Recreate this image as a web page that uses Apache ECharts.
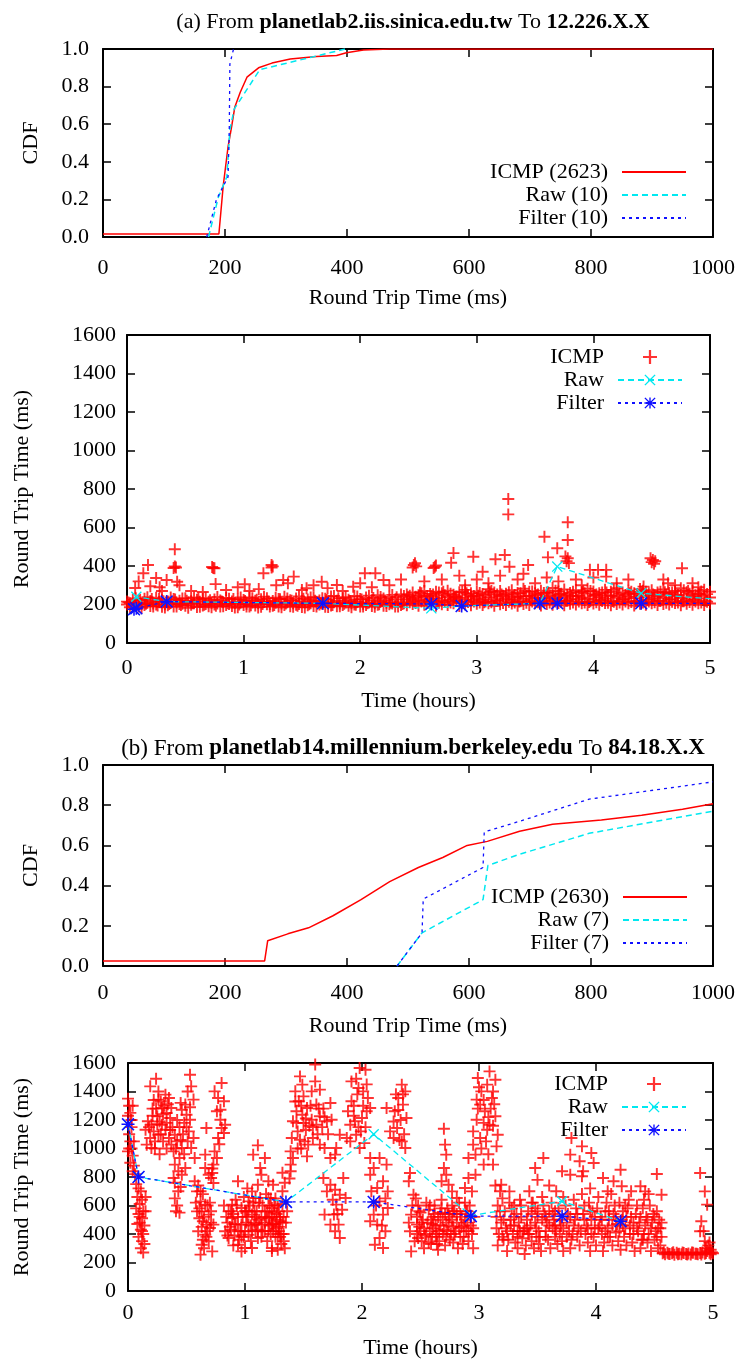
<!DOCTYPE html>
<html><head><meta charset="utf-8">
<script src="https://cdn.jsdelivr.net/npm/echarts@6/dist/echarts.min.js"></script>
<style>html,body{margin:0;padding:0;background:#fff}#c{width:739px;height:1361px}</style>
</head><body><div id="c"></div>
<script>
// ---------- DATA ----------
// (a) CDF
const cdfA_icmp = [[0,0.016],[190,0.016],[197,0.27],[205,0.48],[211,0.59],[216,0.69],[225,0.77],[236,0.85],[255,0.90],[277,0.925],[307,0.947],[350,0.96],[383,0.965],[399,0.98],[427,0.995],[470,1.0],[1000,1.0]];
const cdfA_raw = [[173,0],[189,0.21],[203,0.32],[208,0.57],[215,0.68],[257,0.89],[397,1.0]];
const cdfA_filter = [[170,0],[186,0.2],[205,0.32],[207,0.57],[208,0.92],[214,1.0]];
// (b) CDF
const cdfB_icmp = [[0,0.025],[265,0.025],[270,0.126],[303,0.16],[337,0.19],[377,0.25],[423,0.33],[470,0.42],[517,0.49],[557,0.54],[597,0.60],[630,0.62],[683,0.67],[737,0.705],[817,0.726],[883,0.75],[950,0.78],[1000,0.807]];
const cdfB_raw = [[482,0],[523,0.165],[623,0.33],[631,0.50],[683,0.556],[797,0.66],[1000,0.77]];
const cdfB_filter = [[482,0],[523,0.165],[525,0.333],[623,0.49],[625,0.667],[683,0.72],[797,0.83],[1000,0.916]];

// (a) time series: ICMP band (left part)
const icmpA_bandL = [[0.00,200],[0.00,215],[0.05,195],[0.05,225],[0.10,190],[0.10,220],[0.15,198],[0.15,230],[0.20,192],[0.20,218],[0.25,200],[0.25,235],[0.30,188],[0.30,222],[0.35,196],[0.35,215],[0.40,190],[0.40,228],[0.45,202],[0.45,220],[0.50,193],[0.50,232],[0.55,199],[0.55,217],[0.60,187],[0.60,225],[0.65,195],[0.65,230],[0.70,191],[0.70,214],[0.75,200],[0.75,226],[0.80,189],[0.80,221],[0.85,197],[0.85,234],[0.90,192],[0.90,216],[0.95,186],[0.95,228],[1.00,198],[1.00,223],[1.05,190],[1.05,236],[1.10,195],[1.10,219],[1.15,188],[1.15,227],[1.20,201],[1.20,232],[1.25,193],[1.25,218],[1.30,189],[1.30,229],[1.35,197],[1.35,240],[1.40,191],[1.40,222],[1.45,199],[1.45,231],[1.50,187],[1.50,217],[1.55,196],[1.55,226],[1.60,192],[1.60,238],[1.65,200],[1.65,221],[1.70,188],[1.70,230],[1.75,195],[1.75,242],[1.80,191],[1.80,219],[1.85,198],[1.85,233],[1.90,193],[1.90,225],[1.95,200],[1.95,245],[2.00,190],[2.00,228],[2.05,197],[2.05,236],[2.10,192],[2.10,222],[2.15,199],[2.15,248],[2.20,194],[2.20,231],[2.25,201],[2.25,240],[2.30,190],[2.30,226],[2.35,198],[2.35,252]];
const icmpA_bandLM = [[0.025,207],[0.025,186],[0.075,212],[0.075,232],[0.125,203],[0.125,184],[0.175,209],[0.175,238],[0.225,205],[0.225,189],[0.275,213],[0.275,229],[0.325,201],[0.325,185],[0.375,208],[0.375,236],[0.425,211],[0.425,190],[0.475,204],[0.475,231],[0.525,210],[0.525,183],[0.575,206],[0.575,237],[0.625,214],[0.625,188],[0.675,202],[0.675,233],[0.725,209],[0.725,186],[0.775,205],[0.775,239],[0.825,212],[0.825,191],[0.875,203],[0.875,230],[0.925,208],[0.925,184],[0.975,211],[0.975,236],[1.025,204],[1.025,189],[1.075,210],[1.075,233],[1.125,206],[1.125,185],[1.175,213],[1.175,240],[1.225,202],[1.225,190],[1.275,209],[1.275,235],[1.325,205],[1.325,186],[1.375,212],[1.375,231],[1.425,207],[1.425,188],[1.475,203],[1.475,242],[1.525,210],[1.525,185],[1.575,206],[1.575,236],[1.625,214],[1.625,190],[1.675,204],[1.675,233],[1.725,209],[1.725,187],[1.775,212],[1.775,244],[1.825,205],[1.825,191],[1.875,210],[1.875,238],[1.925,207],[1.925,186],[1.975,213],[1.975,241],[2.025,204],[2.025,190],[2.075,211],[2.075,246],[2.125,206],[2.125,188],[2.175,214],[2.175,239],[2.225,209],[2.225,192],[2.275,205],[2.275,250],[2.325,212],[2.325,189],[2.375,207],[2.375,244]];
const icmpA_bandLX = [[0.0125,211],[0.0625,198],[0.1125,224],[0.1625,204],[0.2125,229],[0.2625,195],[0.3125,217],[0.3625,202],[0.4125,226],[0.4625,197],[0.5125,219],[0.5625,207],[0.6125,231],[0.6625,199],[0.7125,222],[0.7625,194],[0.8125,215],[0.8625,206],[0.9125,228],[0.9625,200],[1.0125,218],[1.0625,196],[1.1125,225],[1.1625,203],[1.2125,216],[1.2625,198],[1.3125,227],[1.3625,205],[1.4125,220],[1.4625,194],[1.5125,230],[1.5625,201],[1.6125,219],[1.6625,207],[1.7125,224],[1.7625,197],[1.8125,232],[1.8625,204],[1.9125,217],[1.9625,199],[2.0125,226],[2.0625,206],[2.1125,234],[2.1625,201],[2.2125,221],[2.2625,209],[2.3125,238],[2.3625,203]];
// ICMP band (right part)
const icmpA_bandR = [[2.40,196],[2.40,226],[2.40,252],[2.45,202],[2.45,231],[2.45,262],[2.50,193],[2.50,224],[2.50,248],[2.55,199],[2.55,236],[2.55,270],[2.60,205],[2.60,228],[2.60,255],[2.65,194],[2.65,233],[2.65,266],[2.70,201],[2.70,222],[2.70,258],[2.75,197],[2.75,238],[2.75,272],[2.80,206],[2.80,229],[2.80,251],[2.85,192],[2.85,235],[2.85,264],[2.90,200],[2.90,226],[2.90,276],[2.95,196],[2.95,240],[2.95,258],[3.00,204],[3.00,231],[3.00,268],[3.05,198],[3.05,223],[3.05,254],[3.10,207],[3.10,237],[3.10,280],[3.15,193],[3.15,228],[3.15,262],[3.20,201],[3.20,242],[3.20,270],[3.25,197],[3.25,232],[3.25,256],[3.30,205],[3.30,226],[3.30,274],[3.35,194],[3.35,239],[3.35,260],[3.40,202],[3.40,230],[3.40,282],[3.45,198],[3.45,244],[3.45,266],[3.50,206],[3.50,234],[3.50,258],[3.55,195],[3.55,227],[3.55,272],[3.60,203],[3.60,241],[3.60,262],[3.65,199],[3.65,233],[3.65,286],[3.70,208],[3.70,245],[3.70,268],[3.75,196],[3.75,236],[3.75,278],[3.80,204],[3.80,228],[3.80,260],[3.85,200],[3.85,243],[3.85,274],[3.90,207],[3.90,235],[3.90,264],[3.95,197],[3.95,229],[3.95,282],[4.00,205],[4.00,246],[4.00,268],[4.05,199],[4.05,238],[4.05,258],[4.10,208],[4.10,230],[4.10,276],[4.15,196],[4.15,244],[4.15,266],[4.20,203],[4.20,236],[4.20,284],[4.25,200],[4.25,227],[4.25,262],[4.30,207],[4.30,241],[4.30,272],[4.35,195],[4.35,233],[4.35,258],[4.40,204],[4.40,246],[4.40,280],[4.45,199],[4.45,238],[4.45,266],[4.50,206],[4.50,230],[4.50,274],[4.55,197],[4.55,243],[4.55,262],[4.60,203],[4.60,235],[4.60,278],[4.65,200],[4.65,228],[4.65,260],[4.70,208],[4.70,242],[4.70,270],[4.75,196],[4.75,234],[4.75,284],[4.80,204],[4.80,226],[4.80,264],[4.85,199],[4.85,240],[4.85,272],[4.90,207],[4.90,232],[4.90,258],[4.95,198],[4.95,245],[4.95,276],[5.00,205],[5.00,236],[5.00,266]];
const icmpA_bandRM = [[2.425,212],[2.425,246],[2.475,208],[2.475,240],[2.525,215],[2.525,258],[2.575,210],[2.575,244],[2.625,217],[2.625,252],[2.675,209],[2.675,262],[2.725,214],[2.725,248],[2.775,211],[2.775,256],[2.825,218],[2.825,242],[2.875,207],[2.875,266],[2.925,213],[2.925,250],[2.975,216],[2.975,244],[3.025,210],[3.025,260],[3.075,215],[3.075,248],[3.125,212],[3.125,270],[3.175,219],[3.175,252],[3.225,208],[3.225,246],[3.275,214],[3.275,264],[3.325,211],[3.325,250],[3.375,217],[3.375,258],[3.425,209],[3.425,244],[3.475,215],[3.475,268],[3.525,212],[3.525,252],[3.575,218],[3.575,260],[3.625,210],[3.625,248],[3.675,216],[3.675,272],[3.725,213],[3.725,256],[3.775,219],[3.775,250],[3.825,211],[3.825,266],[3.875,215],[3.875,246],[3.925,210],[3.925,258],[3.975,217],[3.975,270],[4.025,212],[4.025,252],[4.075,218],[4.075,262],[4.125,209],[4.125,248],[4.175,214],[4.175,276],[4.225,211],[4.225,256],[4.275,216],[4.275,250],[4.325,213],[4.325,266],[4.375,219],[4.375,254],[4.425,210],[4.425,272],[4.475,215],[4.475,258],[4.525,212],[4.525,248],[4.575,218],[4.575,266],[4.625,209],[4.625,252],[4.675,214],[4.675,262],[4.725,211],[4.725,250],[4.775,217],[4.775,274],[4.825,213],[4.825,256],[4.875,216],[4.875,248],[4.925,210],[4.925,268],[4.975,214],[4.975,254]];
const icmpA_bandRX = [[2.4125,238],[2.4625,218],[2.5125,262],[2.5625,220],[2.6125,244],[2.6625,214],[2.7125,266],[2.7625,221],[2.8125,240],[2.8625,216],[2.9125,258],[2.9625,223],[3.0125,246],[3.0625,212],[3.1125,264],[3.1625,219],[3.2125,252],[3.2625,224],[3.3125,240],[3.3625,215],[3.4125,270],[3.4625,222],[3.5125,248],[3.5625,217],[3.6125,262],[3.6625,225],[3.7125,254],[3.7625,219],[3.8125,244],[3.8625,226],[3.9125,268],[3.9625,213],[4.0125,250],[4.0625,223],[4.1125,262],[4.1625,218],[4.2125,246],[4.2625,226],[4.3125,258],[4.3625,216],[4.4125,266],[4.4625,224],[4.5125,252],[4.5625,219],[4.6125,264],[4.6625,225],[4.7125,248],[4.7625,217],[4.8125,270],[4.8625,223],[4.9125,254],[4.9625,220]];
// ICMP outliers
const icmpA_out = [[0.41,487],[0.18,405],[0.14,362],[0.07,286],[0.25,338],[0.34,327],[0.40,390],[0.41,398],[0.42,392],[0.43,318],[0.74,390],[0.73,395],[0.75,388],[0.76,306],[1.01,305],[1.24,405],[1.25,398],[1.24,392],[1.17,362],[1.34,327],[1.43,345],[1.54,284],[1.67,318],[1.80,301],[2.04,362],[1.94,292],[2.13,362],[2.20,327],[3.27,748],[3.27,668],[3.78,627],[3.78,535],[3.58,552],[3.69,492],[3.61,445],[3.78,440],[3.77,425],[3.79,415],[3.76,450],[3.24,457],[3.16,435],[2.97,448],[2.78,417],[2.47,414],[2.46,405],[2.48,398],[2.45,392],[2.64,396],[2.65,403],[2.63,390],[4.51,431],[4.50,420],[4.52,412],[4.49,440],[4.53,425],[4.76,388],[3.97,380],[4.04,380],[4.11,380],[4.11,345],[4.64,310],[4.43,293],[3.44,405],[3.28,396],[2.80,467],[0.10,320],[0.20,295],[0.28,290],[0.30,270],[0.45,300],[0.55,270],[0.65,265],[0.85,275],[0.95,290],[1.05,270],[1.13,280],[1.28,300],[1.38,310],[1.50,275],[1.60,300],[1.72,285],[1.85,270],[2.00,310],[2.10,290],[2.25,300],[2.35,330],[2.55,320],[2.70,330],[2.85,350],[2.90,300],[3.00,330],[3.05,370],[3.10,310],[3.20,350],[3.35,330],[3.40,360],[3.50,310],[3.60,340],[3.70,320],[3.85,330],[3.90,300],[4.00,340],[4.20,310],[4.30,330],[4.60,330],[4.70,300],[4.85,310],[4.90,290]];
const rawA = [[0.06,175],[0.08,240],[0.34,215],[1.68,206],[2.61,180],[2.87,192],[3.54,206],[3.69,397],[4.41,258],[5.3,215]];
const filterA = [[0.06,175],[0.08,180],[0.34,215],[1.68,206],[2.61,203],[2.87,192],[3.54,206],[3.69,206],[4.41,206],[5.3,206]];

// (b) time series: ICMP
const icmpB1 = [[0.00,1350],[0.01,1300],[0.02,1250],[0.00,1230],[0.03,1200],[0.01,1100],[0.02,1050],[0.03,1000],[0.00,980],[0.04,950],[0.02,900],[0.05,880],[0.04,840],[0.06,820],[0.03,1150],[0.05,1050],[0.01,1000],[0.04,1300],
[0.07,750],[0.09,720],[0.11,700],[0.08,660],[0.12,640],[0.10,610],[0.07,580],[0.13,560],[0.09,540],[0.12,510],[0.10,480],[0.14,460],[0.11,430],[0.13,400],[0.09,380],[0.12,350],[0.14,330],[0.11,300],[0.13,270],[0.15,560],[0.08,470],[0.15,660],[0.10,520],[0.12,420],
[0.24,1490],[0.19,1436],[0.26,1343],[0.32,1378],[0.35,1354],[0.29,1284],[0.25,1226],[0.20,1167],[0.17,1191],[0.15,1132],[0.19,1074],[0.16,1027],[0.20,1003],[0.23,1050],[0.26,1097],[0.29,1167],[0.32,1132],[0.35,1074],[0.37,1027],[0.40,1097],[0.36,1214],[0.37,1284],[0.33,1249],[0.46,1272],[0.49,1308],[0.50,1237],[0.53,1202],[0.56,1343],[0.53,1518],[0.54,1436],[0.52,1120],[0.56,1074],[0.54,1003],[0.57,933],[0.46,1003],[0.44,933],[0.40,887],[0.43,840],[0.39,793],[0.46,816],[0.49,863],[0.22,1120],[0.27,1190],[0.30,1240],[0.31,1300],[0.28,1330],[0.24,1280],[0.21,1230],[0.18,1150],[0.23,1000],[0.27,960],[0.30,1050],[0.33,1000],[0.38,1150],[0.42,1200],[0.44,1150],[0.47,1100],[0.48,1180],[0.51,1050],[0.42,1050],[0.39,980],[0.45,1320],[0.51,1400],[0.26,1400],[0.34,1310],[0.22,1340],
[0.40,760],[0.43,700],[0.40,650],[0.42,600],[0.41,560],[0.44,550],[0.45,730],
[0.57,770],[0.59,699],[0.62,629],[0.63,559],[0.64,489],[0.60,419],[0.66,395],[0.69,349],[0.63,325],[0.72,278],[0.62,255],[0.67,466],[0.70,442],[0.59,559],[0.66,606],[0.69,536],[0.73,466],[0.61,510],[0.65,300],[0.68,420],[0.71,560],[0.64,680],[0.60,740],
[0.74,1401],[0.77,1354],[0.80,1460],[0.82,1331],[0.76,1261],[0.79,1202],[0.80,1144],[0.77,1074],[0.74,980],[0.76,933],[0.73,887],[0.66,957],[0.67,1144],[0.79,1272],[0.83,1167],[0.82,1109],[0.78,1030],[0.72,860],[0.66,863],[0.69,816],[0.71,793],[0.73,758],[0.72,828],
[0.94,770],[0.86,559],[0.89,512],[0.92,466],[0.83,419],[0.86,372],[0.94,325],[0.97,278],[1.00,302],[1.06,302],[0.89,606],[0.97,582],[1.03,629],[1.09,653],[1.06,699],[1.11,746],[1.14,816],[1.13,863],[1.07,957],[1.11,1022],[1.17,933],[1.13,653],[1.17,559],[1.20,512],[1.23,466],[1.17,419],[1.11,372],[1.14,466],[1.20,653],[1.23,582],[1.06,536],[1.03,466],[0.97,466],[1.00,419],[0.94,419],[1.03,395],[1.09,419],[1.14,512],[1.20,770],[1.24,746],[1.23,302],[0.85,480],[0.88,430],[0.91,390],[0.95,360],[0.98,520],[1.01,560],[1.04,600],[1.07,620],[1.10,560],[1.12,500],[1.15,600],[1.18,680],[1.21,600],[1.25,550],[1.27,500],[1.29,450],[1.31,400],[1.33,350],[1.30,520],[1.28,600],[1.26,650],[1.32,700],[1.34,300],[1.22,400],[1.19,350],[0.90,320],[1.05,350],[1.08,480],[0.99,660],[1.02,720],
[1.22,650],[1.25,600],[1.27,540],[1.30,490],[1.24,470],[1.29,420],[1.33,400],[1.26,380],[1.31,330],[1.28,290],[1.23,280],[1.35,480],[1.36,560],[1.32,610],[1.21,520],[1.32,830],[1.34,760],[1.38,790]];
const icmpB2 = [[1.47,1506],[1.49,1448],[1.43,1401],[1.46,1331],[1.50,1366],[1.44,1261],[1.49,1237],[1.53,1284],[1.41,1191],[1.50,1179],[1.57,1202],[1.61,1167],[1.64,1226],[1.70,1191],[1.74,1202],[1.40,1074],[1.47,1062],[1.54,1027],[1.58,1074],[1.64,1027],[1.68,1003],[1.73,933],[1.77,957],[1.61,1308],[1.73,1319],[1.60,1471],[1.64,1413],[1.57,1401],[1.60,1590],[1.39,980],[1.41,933],[1.39,887],[1.39,840],[1.53,945],[1.81,1097],[1.78,1003],[1.45,1120],[1.52,1130],[1.56,1300],[1.67,1280],[1.71,1100],[1.55,1160],[1.62,1100],[1.48,1000],[1.44,1180],[1.66,1150],
[1.67,793],[1.73,746],[1.77,711],[1.81,676],[1.70,699],[1.78,606],[1.83,570],[1.76,536],[1.80,466],[1.77,419],[1.81,372],[1.73,466],[1.84,793],[1.86,653],[1.68,536],[1.75,640],[1.79,540],
[1.91,1471],[1.98,1565],[2.03,1553],[1.97,1425],[2.01,1401],[2.05,1354],[1.91,1331],[2.04,1261],[2.00,1214],[2.07,1284],[1.88,1261],[1.90,1167],[1.94,1191],[1.95,1097],[1.90,1050],[1.98,1003],[1.87,1074],[2.02,1038],[1.93,1300],[1.96,1380],[2.03,1150],[1.99,1120],
[2.07,933],[2.10,863],[2.15,933],[2.21,887],[2.07,816],[2.18,770],[2.22,699],[2.13,723],[2.15,629],[2.10,536],[2.18,536],[2.13,466],[2.20,419],[2.15,372],[2.11,325],[2.18,302],[2.07,489],[2.22,582],[2.12,600],[2.08,700],[2.17,460],[2.20,650],
[2.34,1448],[2.37,1401],[2.31,1354],[2.35,1308],[2.28,1261],[2.38,1214],[2.24,1120],[2.27,1074],[2.34,1050],[2.37,1003],[2.30,1144],[2.21,1284],[2.33,1200],[2.29,1380],[2.36,1100],
[2.41,828],[2.40,770],[2.44,676],[2.42,536],[2.47,466],[2.41,419],[2.45,349],[2.42,278],[2.48,372],[2.43,600],[2.40,480]];
const icmpB3 = [[2.46,650],[2.48,600],[2.50,550],[2.52,500],[2.49,450],[2.47,400],[2.51,350],[2.53,300],[2.55,620],[2.57,570],[2.56,480],[2.58,420],[2.60,380],[2.59,330],[2.61,520],[2.63,460],[2.62,600],[2.64,400],[2.66,350],[2.65,290],[2.67,550],[2.69,500],[2.68,640],[2.70,430],[2.72,380],[2.71,320],[2.73,580],[2.75,520],[2.74,460],[2.76,400],[2.78,340],[2.77,600],[2.79,560],[2.81,480],[2.80,420],[2.82,300],[2.84,540],[2.83,620],[2.85,450],[2.87,380],[2.86,330],[2.88,500],[2.90,560],[2.89,420],[2.91,350],[2.93,460],[2.92,600],[2.94,400],[2.96,520],[2.95,300],[2.54,390],[2.60,470],[2.66,420],[2.72,480],[2.78,450],[2.84,380],[2.90,480],[2.50,420],[2.62,540],[2.74,540],
[2.70,1139],[2.71,1027],[2.72,957],[2.70,863],[2.72,816],[2.68,770],[2.74,746],[2.77,699],[2.81,653],[2.88,723],[2.91,793],[2.94,699],[2.97,816],
[2.99,1495],[3.09,1541],[3.14,1483],[3.02,1401],[3.07,1448],[3.11,1354],[3.01,1308],[3.05,1261],[3.14,1226],[2.98,1202],[3.09,1167],[2.95,1120],[3.01,1074],[3.16,1097],[2.95,1027],[3.15,1015],[2.97,957],[3.04,887],[3.12,887],[2.91,933],[3.07,1132],[2.98,1343],[3.04,1180],[3.10,1280],[3.06,1050],[3.12,1400],
[3.14,740],[3.18,700],[3.20,650],[3.16,600],[3.22,560],[3.15,520],[3.19,480],[3.23,440],[3.17,400],[3.21,360],[3.16,320],[3.24,280],[3.26,620],[3.28,580],[3.27,500],[3.30,460],[3.29,400],[3.31,340],[3.33,300],[3.32,540],[3.35,640],[3.36,600],[3.34,480],[3.38,420],[3.37,370],[3.40,320],[3.39,260],[3.42,560],[3.41,500],[3.44,460],[3.43,400],[3.45,350],[3.47,300],[3.46,620],[3.48,580],[3.50,520],[3.49,440],[3.52,380],[3.51,330],[3.53,280],[3.55,600],[3.54,660],[3.56,540],[3.58,480],[3.57,420],[3.59,360],[3.61,300],[3.60,560],[3.62,620],[3.64,500],[3.63,440],[3.65,380],[3.67,330],[3.66,700],[3.68,580],[3.70,460],[3.69,400],[3.71,350],[3.72,280],[3.25,360],[3.33,420],[3.41,440],[3.49,380],[3.57,520],[3.65,460],
[3.48,863],[3.55,933],[3.71,840],[3.19,746],[3.26,699],[3.43,700],[3.60,740],[3.50,780]];
const icmpB4 = [[3.79,1074],[3.78,957],[3.88,1015],[3.86,910],[3.96,968],[3.98,898],[3.89,840],[3.88,805],[3.78,816],[4.06,793],[4.15,770],[4.21,851],[4.22,735],[4.38,735],[4.42,699],[4.52,821],[4.56,676],[4.89,828],[4.93,699],[4.95,606],[4.90,489],[4.89,419],
[3.72,660],[3.74,600],[3.76,540],[3.75,480],[3.77,420],[3.79,360],[3.78,300],[3.81,640],[3.83,580],[3.82,500],[3.85,440],[3.84,380],[3.86,320],[3.88,680],[3.90,600],[3.89,540],[3.92,460],[3.91,400],[3.93,340],[3.95,280],[3.94,620],[3.97,560],[3.96,500],[3.99,440],[3.98,380],[4.00,320],[4.02,660],[4.01,580],[4.04,520],[4.03,460],[4.05,400],[4.07,340],[4.06,280],[4.09,620],[4.08,560],[4.11,500],[4.10,440],[4.12,380],[4.14,320],[4.13,680],[4.16,600],[4.15,540],[4.18,470],[4.17,410],[4.19,350],[4.21,290],[4.20,620],[4.23,560],[4.22,500],[4.25,440],[4.24,380],[4.26,320],[4.28,640],[4.27,580],[4.30,520],[4.29,460],[4.32,400],[4.31,340],[4.33,280],[4.35,600],[4.34,540],[4.37,480],[4.36,420],[4.39,360],[4.38,300],[4.41,640],[4.40,580],[4.43,520],[4.42,460],[4.45,400],[4.44,340],[4.47,280],[4.46,600],[4.49,540],[4.48,480],[4.51,420],[4.50,360],[4.53,300],[4.52,560],[4.54,500],[4.55,440],[4.56,380],[4.55,320],[4.10,700],[4.30,700],[4.45,680],[3.95,720],
[4.57,265],[4.59,258],[4.61,268],[4.63,260],[4.65,265],[4.67,255],[4.69,268],[4.71,262],[4.73,258],[4.75,266],[4.77,260],[4.79,264],[4.81,256],[4.83,268],[4.85,262],[4.87,258],[4.89,266],[4.91,270],[4.93,262],[4.95,280],[4.97,268],[4.99,272],[5.00,265],[4.94,300],[4.96,320],[4.98,290],[4.93,350],[4.97,340],[4.92,420]];
// extra points in the densest clusters of (b)
const icmpB5 = [[0.82,600],[0.84,520],[0.87,450],[0.90,540],[0.93,600],[0.96,420],[0.99,380],[1.02,520],[1.05,460],[1.08,560],[1.11,430],[1.14,380],[1.17,480],[1.20,420],[1.23,520],[1.26,470],[1.29,560],[1.32,480],[0.85,390],[0.88,560],[0.91,470],[0.94,520],[0.97,380],[1.00,560],[1.03,560],[1.06,420],[1.09,520],[1.12,620],[1.15,420],[1.18,520],[1.21,460],[1.24,420],[1.27,440],[1.30,380],[1.33,520],[0.92,640],[1.01,480],[1.10,470],[1.19,560],[1.28,380],
[2.47,520],[2.49,560],[2.51,480],[2.53,440],[2.55,400],[2.57,340],[2.59,500],[2.61,440],[2.63,380],[2.65,520],[2.67,460],[2.69,400],[2.71,540],[2.73,420],[2.75,360],[2.77,500],[2.79,400],[2.81,540],[2.83,440],[2.85,520],[2.87,460],[2.89,560],[2.91,420],[2.93,520],[2.95,440],[2.58,600],[2.68,580],[2.78,560],[2.88,620],[2.64,330],
[3.15,440],[3.18,560],[3.21,500],[3.24,420],[3.27,460],[3.30,520],[3.33,380],[3.36,520],[3.39,440],[3.42,400],[3.45,540],[3.48,480],[3.51,420],[3.54,500],[3.57,380],[3.60,460],[3.63,540],[3.66,420],[3.69,500],[3.72,440],[3.75,380],[3.78,520],[3.81,460],[3.84,540],[3.87,420],[3.90,500],[3.93,440],[3.96,400],[3.99,520],[4.02,440],[4.05,500],[4.08,420],[4.11,560],[4.14,460],[4.17,520],[4.20,420],[4.23,460],[4.26,520],[4.29,400],[4.32,480],[4.35,440],[4.38,520],[4.41,400],[4.44,500],[4.47,440],[4.50,520],[4.53,440],[4.56,480],[3.20,380],[3.35,420],[3.50,560],[3.65,560],[3.80,400],[3.95,560],[4.10,380],[4.25,600],[4.40,360],[4.52,380],[3.30,600],[3.45,620],
[0.58,620],[0.61,580],[0.63,450],[0.65,520],[0.67,380],[0.70,620],[0.62,700],[0.68,600],[0.71,480],[0.64,360],
[0.21,1280],[0.25,1170],[0.28,1100],[0.33,1180],[0.36,1130],[0.41,1000],[0.45,1060],[0.50,1150],[0.53,1290],[0.48,960],
[1.43,1330],[1.48,1300],[1.52,1210],[1.58,1150],[1.63,1280],[1.68,1220],[1.51,1050],[1.45,1000],
[1.93,1230],[1.97,1150],[2.01,1300],[1.95,1490],[2.04,1450],[2.27,1190],[2.31,1270],[2.35,1380],[2.32,1060],
[3.00,1430],[3.04,1340],[3.08,1220],[3.12,1160],[3.02,1000],[3.08,960],[2.99,1280],[3.13,1310],
[4.58,272],[4.62,262],[4.66,272],[4.70,258],[4.74,270],[4.78,256],[4.82,270],[4.86,262],[4.90,256],[4.94,266],[4.98,258]];
const rawB = [[0.0,1170],[0.09,800],[1.35,625],[2.10,1100],[2.93,530],[3.71,630],[4.21,490]];
const filterB = [[0.0,1170],[0.09,800],[1.35,625],[2.10,625],[2.93,525],[3.71,525],[4.21,490]];

// ---------- STYLE ----------
const FONT = 'Liberation Serif';
const FS = 22;
const PLUS = 'path://M4.2,0H5.8V4.2H10V5.8H5.8V10H4.2V5.8H0V4.2H4.2Z';
const CROSS = 'path://M0,0.85L0.85,0L5,4.15L9.15,0L10,0.85L5.85,5L10,9.15L9.15,10L5,5.85L0.85,10L0,9.15L4.15,5Z';
const STAR = 'path://M4.4,0H5.6V4.4H10V5.6H5.6V10H4.4V5.6H0V4.4H4.4Z M0,0.85L0.85,0L5,4.15L9.15,0L10,0.85L5.85,5L10,9.15L9.15,10L5,5.85L0.85,10L0,9.15L4.15,5Z';
const RED = '#ff0000', CYAN = '#00e8f0', BLUE = '#1010ff';
const txt = {fontFamily: FONT, fontSize: FS, color: '#000'};
const AXL = {show: true, onZero: false, lineStyle: {color: '#000', width: 2}};
const TCK = {show: true, inside: true, length: 8, lineStyle: {color: '#000', width: 1.5}};

function f1(v) { return v.toFixed(1); }
function fi(v) { return String(v); }
function xAxes(g, min, max, interval, name, nameGap, margin) {
  return [
    {type: 'value', gridIndex: g, position: 'bottom', min, max, interval, name, nameLocation: 'middle', nameGap,
     nameTextStyle: txt, axisLine: AXL, axisTick: TCK, splitLine: {show: false},
     axisLabel: Object.assign({margin, formatter: fi}, txt)},
    {type: 'value', gridIndex: g, position: 'top', min, max, interval, axisLine: AXL, axisTick: TCK,
     splitLine: {show: false}, axisLabel: {show: false}}
  ];
}
function yAxes(g, min, max, interval, name, nameGap, margin, fmt) {
  return [
    {type: 'value', gridIndex: g, position: 'left', min, max, interval, name, nameLocation: 'middle', nameGap,
     nameTextStyle: txt, axisLine: AXL, axisTick: TCK, splitLine: {show: false},
     axisLabel: Object.assign({margin, formatter: fmt}, txt)},
    {type: 'value', gridIndex: g, position: 'right', min, max, interval, axisLine: AXL, axisTick: TCK,
     splitLine: {show: false}, axisLabel: {show: false}}
  ];
}

function cdfSeries(g, names, d) {
  return [
    {name: names[0], type: 'line', xAxisIndex: 2*g, yAxisIndex: 2*g, data: d[0], symbol: 'none',
     itemStyle: {color: RED}, lineStyle: {color: RED, width: 1.5}},
    {name: names[1], type: 'line', xAxisIndex: 2*g, yAxisIndex: 2*g, data: d[1], symbol: 'none',
     itemStyle: {color: CYAN}, lineStyle: {color: CYAN, width: 1.5, type: [6, 4]}},
    {name: names[2], type: 'line', xAxisIndex: 2*g, yAxisIndex: 2*g, data: d[2], symbol: 'none',
     itemStyle: {color: BLUE}, lineStyle: {color: BLUE, width: 1.3, type: [3, 4]}}
  ];
}
function tsSeries(g, icmp, raw, filt) {
  return [
    {name: 'ICMP', type: 'scatter', xAxisIndex: 2*g, yAxisIndex: 2*g, data: icmp, symbol: PLUS, symbolSize: 12,
     itemStyle: {color: RED, opacity: 0.8}},
    {name: 'Raw', type: 'line', xAxisIndex: 2*g, yAxisIndex: 2*g, data: raw, symbol: CROSS, symbolSize: 11, showSymbol: true,
     itemStyle: {color: CYAN}, lineStyle: {color: CYAN, width: 1.3, type: [6, 4]}},
    {name: 'Filter', type: 'line', xAxisIndex: 2*g, yAxisIndex: 2*g, data: filt, symbol: STAR, symbolSize: 13, showSymbol: true,
     itemStyle: {color: BLUE}, lineStyle: {color: BLUE, width: 1.3, type: [3, 4]}}
  ];
}
function legend(items, top, right, hide) {
  return {
    data: items.map(n => hide ? {name: n, itemStyle: {opacity: 0}} : {name: n}),
    orient: 'vertical', align: 'right', top, right, padding: 0,
    itemWidth: 64, itemHeight: 14, itemGap: 1, selectedMode: false,
    textStyle: Object.assign({lineHeight: 22, padding: [0, 9, 0, 0]}, txt)
  };
}
function title(reg, bold1, bold2, top, fs) {
  return {
    text: '{n|' + reg + ' From }{b|' + bold1 + '}{n| To }{b|' + bold2 + '}',
    left: 408, textAlign: 'center', top,
    textStyle: {fontFamily: FONT, fontSize: fs, fontWeight: 'normal', color: '#000',
      rich: {n: {fontFamily: FONT, fontSize: fs, color: '#000', fontWeight: 'normal'},
             b: {fontFamily: FONT, fontSize: fs, color: '#000', fontWeight: 'bold'}}}
  };
}

const option = {
  animation: false,
  backgroundColor: '#fff',
  title: [title('(a)', 'planetlab2.iis.sinica.edu.tw', '12.226.X.X', 6, 22),
          title('(b)', 'planetlab14.millennium.berkeley.edu', '84.18.X.X', 732, 23)],
  grid: [
    {left: 103, top: 49, width: 610, height: 188},
    {left: 127, top: 335, width: 583, height: 308},
    {left: 103, top: 765, width: 610, height: 201},
    {left: 128, top: 1063, width: 585, height: 228}
  ],
  xAxis: [].concat(
    xAxes(0, 0, 1000, 200, 'Round Trip Time (ms)', 50, 20),
    xAxes(1, 0, 5, 1, 'Time (hours)', 47, 14),
    xAxes(2, 0, 1000, 200, 'Round Trip Time (ms)', 49, 16),
    xAxes(3, 0, 5, 1, 'Time (hours)', 46, 11)
  ),
  yAxis: [].concat(
    yAxes(0, 0, 1, 0.2, 'CDF', 61, 14, f1),
    yAxes(1, 0, 1600, 200, 'Round Trip Time (ms)', 94, 11, fi),
    yAxes(2, 0, 1, 0.2, 'CDF', 61, 14, f1),
    yAxes(3, 0, 1600, 200, 'Round Trip Time (ms)', 95, 12, fi)
  ),
  legend: [
    legend(['ICMP (2623)', 'Raw (10)', 'Filter (10)'], 161, 52, true),
    legend(['ICMP', 'Raw', 'Filter'], 346, 56, false),
    legend(['ICMP (2630)', 'Raw (7)', 'Filter (7)'], 886, 51, true),
    legend(['ICMP', 'Raw', 'Filter'], 1073, 52, false)
  ],
  series: [].concat(
    cdfSeries(0, ['ICMP (2623)', 'Raw (10)', 'Filter (10)'], [cdfA_icmp, cdfA_raw, cdfA_filter]),
    tsSeries(1, icmpA_bandL.concat(icmpA_bandLM, icmpA_bandLX, icmpA_bandR, icmpA_bandRM, icmpA_bandRX, icmpA_out), rawA, filterA),
    cdfSeries(2, ['ICMP (2630)', 'Raw (7)', 'Filter (7)'], [cdfB_icmp, cdfB_raw, cdfB_filter]),
    tsSeries(3, icmpB1.concat(icmpB2, icmpB3, icmpB4, icmpB5), rawB, filterB)
  )
};
const chart = echarts.init(document.getElementById('c'), null, {renderer: 'canvas'});
chart.setOption(option);
</script></body></html>
